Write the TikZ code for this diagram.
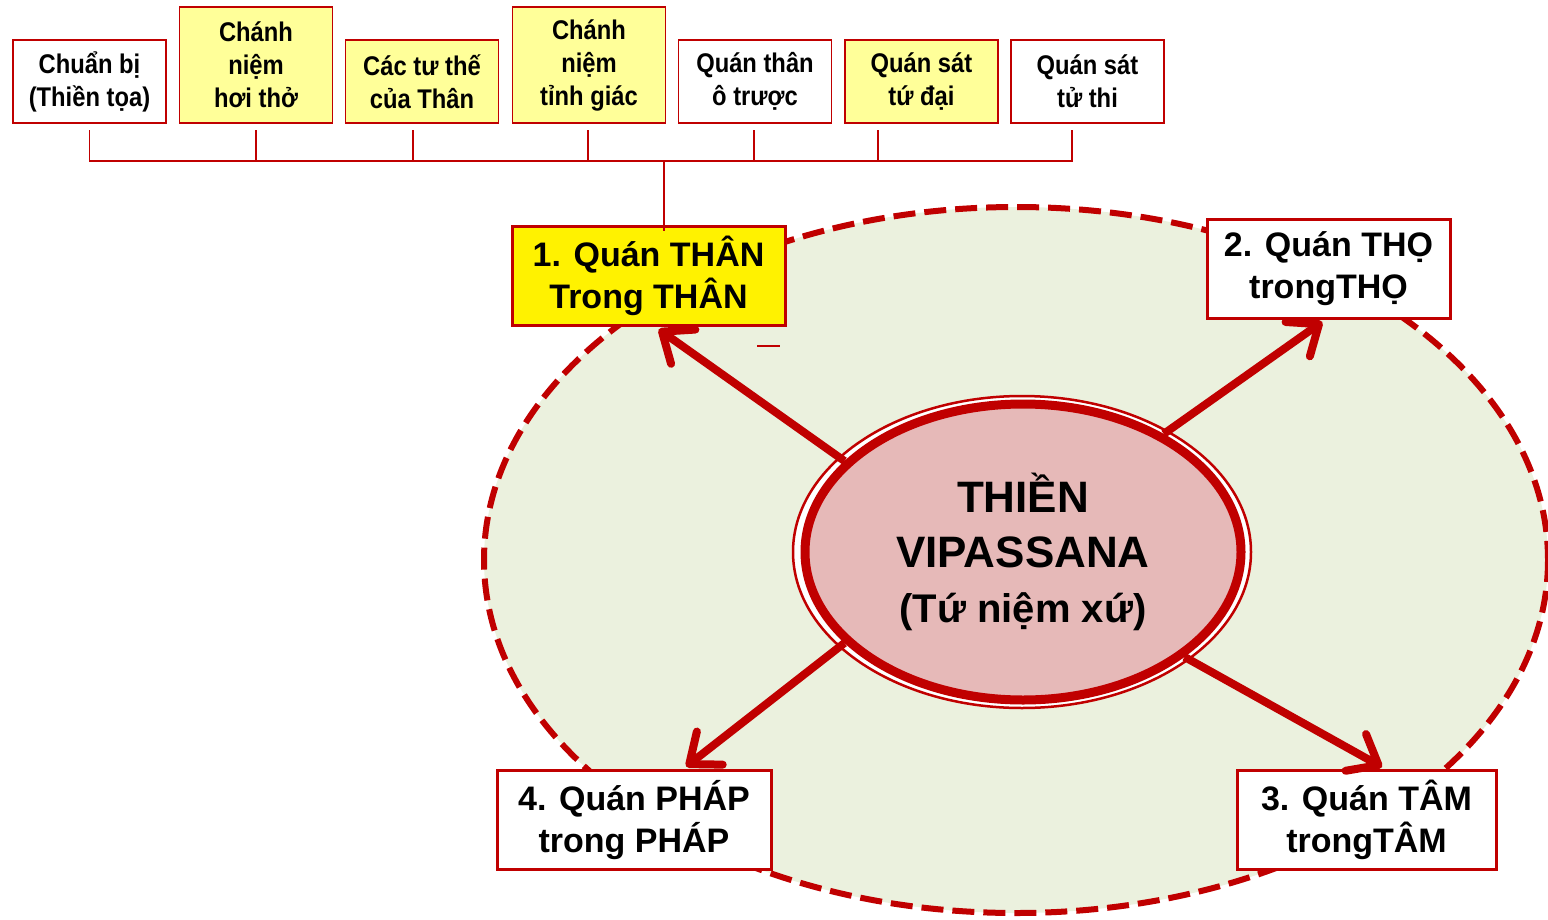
\documentclass[tikz,border=0pt]{standalone}
\usepackage{fontspec}
\setmainfont{Liberation Sans}
\newfontfamily\narrowsans[FakeStretch=0.88]{Liberation Sans}
\usetikzlibrary{arrows.meta,shapes.geometric}
\definecolor{deepred}{HTML}{C00000}
\definecolor{paleyellow}{HTML}{FFFF99}
\definecolor{sage}{HTML}{EBF1DE}
\definecolor{rose}{HTML}{E6B9B8}
\tikzset{
  topbox/.style={draw=deepred, line width=1.8pt, fill=white, align=center,
    inner sep=0pt, minimum width=153pt, minimum height=83pt, anchor=south,
    font=\narrowsans\bfseries\fontsize{27}{33}\selectfont},
  tallbox/.style={topbox, minimum height=116pt, fill=paleyellow},
  stagebox/.style={draw=deepred, line width=3pt, fill=white, align=center,
    inner sep=0pt, minimum height=99pt,
    font=\bfseries\fontsize{34}{42}\selectfont},
  treeline/.style={draw=deepred, line width=1.8pt},
  flow/.style={draw=deepred, line width=8pt, shorten >=4pt,
    -{Straight Barb[length=26pt,width=42pt,round]}},
}
\begin{document}
\begin{tikzpicture}[x=1pt,y=-1pt]
    \useasboundingbox (0,0) rectangle (1548,919);
    % outer dashed field
    \draw[deepred, fill=sage, line width=6pt, dash pattern=on 22pt off 9pt]
      (1016,560) ellipse [x radius=532, y radius=353];
    % practices of the body
    \node[topbox] (prep) at (89.5,124) {Chuẩn bị\\(Thiền tọa)};
    \node[tallbox] (breath) at (256,124) {Chánh\\niệm\\hơi thở};
    \node[topbox, fill=paleyellow] (posture) at (422,124) {Các tư thế\\của Thân};
    \node[tallbox] (aware) at (589,124) {Chánh\\niệm\\tỉnh giác};
    \node[topbox] (impure) at (755,124) {Quán thân\\ô trược};
    \node[topbox, fill=paleyellow] (elements) at (921.5,124) {Quán sát\\tứ đại};
    \node[topbox] (corpse) at (1087.5,124) {Quán sát\\tử thi};
    \coordinate (bus) at (0,161);
    \draw[treeline] (prep.south) ++(0,6) -- (prep.south |- bus)
      -- ([xshift=-15.5pt]corpse.south |- bus) -- ++(0,-31);
    \draw[treeline] (breath.south) ++(0,6) -- (breath.south |- bus);
    \draw[treeline] ([xshift=-9pt]posture.south) ++(0,6) -- ([xshift=-9pt]posture.south |- bus);
    \draw[treeline] ([xshift=-1pt]aware.south) ++(0,6) -- ([xshift=-1pt]aware.south |- bus);
    \draw[treeline] ([xshift=-1pt]impure.south) ++(0,6) -- ([xshift=-1pt]impure.south |- bus);
    \draw[treeline] ([xshift=-43.5pt]elements.south) ++(0,6) -- ([xshift=-43.5pt]elements.south |- bus);
    % the four foundations
    \node[stagebox, fill=yellow, minimum width=273pt] (body) at (648.5,276) {1. Quán THÂN\\Trong THÂN};
    \node[stagebox, minimum width=243pt] (feel) at (1328.5,268.5) {2. Quán THỌ\\trongTHỌ};
    \node[stagebox, minimum width=259pt] (mind) at (1366.5,820) {3. Quán TÂM\\trongTÂM};
    \node[stagebox, minimum width=274pt] (dhamma) at (634,820) {4. Quán PHÁP\\trong PHÁP};
    \draw[treeline] (664,161) -- ([xshift=15.5pt]body.north) -- ++(0,6);
    \draw[deepred, line width=1.5pt] (757,346) -- (780,346);
    % centre
    \draw[deepred, line width=2.5pt, fill=white] (1022,552) ellipse [x radius=229, y radius=156];
    \node[ellipse, draw=deepred, line width=9pt, fill=rose, minimum width=436pt,
      minimum height=296pt, align=center, font=\bfseries\fontsize{44}{55}\selectfont]
      (core) at (1023,552) {THIỀN\\VIPASSANA\\{\fontsize{40}{49}\selectfont(Tứ niệm xứ)}};
    \draw[flow] (core.153) -- ([xshift=7pt]body.south);
    \draw[flow] (core.40) -- ([xshift=-3pt]feel.south);
    \draw[flow] (core.-33) -- ([xshift=19pt]mind.north);
    \draw[flow] (core.207) -- ([xshift=49pt]dhamma.north);
\end{tikzpicture}
\end{document}
